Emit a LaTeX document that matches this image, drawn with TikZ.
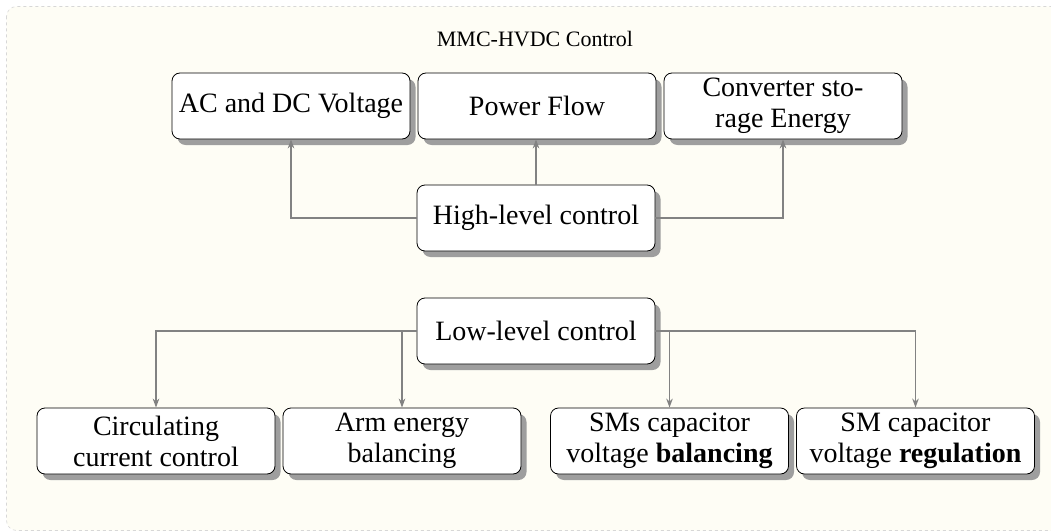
\documentclass[tikz,border=0pt]{standalone}
\usepackage{fontspec}
\setmainfont{Liberation Serif}
\usetikzlibrary{arrows.meta,shadows}
\definecolor{bgcream}{RGB}{254,253,245}
\definecolor{bgborder}{RGB}{215,215,215}
\definecolor{linegray}{RGB}{130,130,130}
\definecolor{shadowgray}{RGB}{158,158,158}
\tikzset{
  box/.style={draw=black, line width=0.8pt, rounded corners=8pt, fill=white,
    minimum width=238pt, minimum height=66pt, align=center, inner sep=4pt,
    font=\fontsize{28}{31}\selectfont,
    drop shadow={shadow xshift=5.5pt, shadow yshift=-6pt, fill=shadowgray, opacity=1}},
  arr/.style={draw=linegray, line width=1.8pt, -{Stealth[length=9pt,width=6.5pt]}}
}
\begin{document}
\begin{tikzpicture}[x=1pt,y=-1pt]
\useasboundingbox (0,0) rectangle (1051,532);
\begin{scope}
\clip (0,0) rectangle (1051,532);
\fill[bgcream, rounded corners=10pt] (6.5,6.5) rectangle (1070,530.5);
\draw[bgborder, dashed, line width=0.6pt, rounded corners=10pt] (6.5,6.5) rectangle (1070,530.5);
\end{scope}

\node[anchor=base, font=\fontsize{22}{26}\selectfont] (title) at (535,47) {MMC-HVDC Control};

\node[box] (ac) at (291,106) {AC and DC Voltage};
\node[box] (pf) at (537,106) {Power Flow};
\node[box] (cs) at (783,106) {Converter sto-\\rage Energy};

\node[box] (hl) at (536,218) {High-level control};
\node[box] (ll) at (536,331) {Low-level control};

\node[box] (cc) at (156,441) {Circulating\\current control};
\node[box] (ae) at (402,441) {Arm energy\\balancing};
\node[box] (smb) at (669.5,441) {SMs capacitor\\voltage \textbf{balancing}};
\node[box] (smr) at (915.5,441) {SM capacitor\\voltage \textbf{regulation}};

\draw[arr] (hl.west) -| (ac.south);
\draw[arr] (hl.north) -- (hl.north |- pf.south);
\draw[arr] (hl.east) -| (cs.south);

\draw[arr] (ll.west) -| (cc.north);
\draw[arr] (ll.west -| ae.north) -- (ae.north);
\draw[arr] (ll.east) -| (smr.north);
\draw[arr] (ll.east -| smb.north) -- (smb.north);
\end{tikzpicture}
\end{document}
